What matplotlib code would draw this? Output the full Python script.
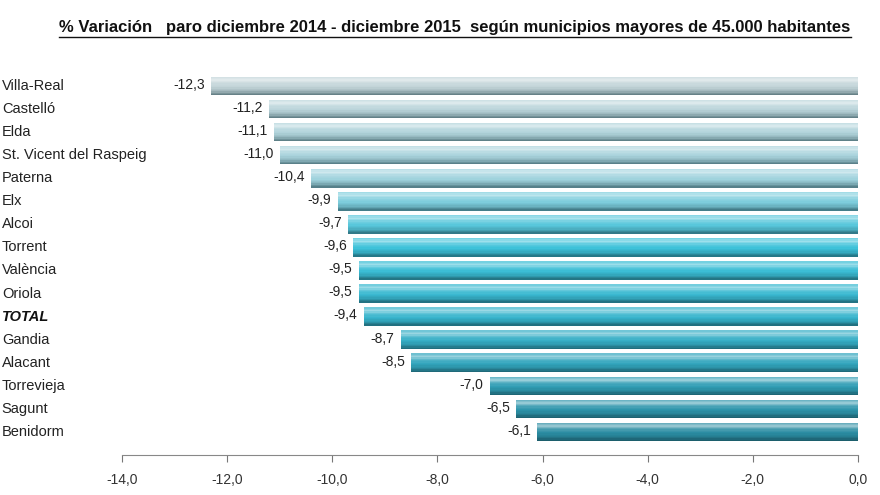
import numpy as np
import matplotlib
matplotlib.use("Agg")
import matplotlib.pyplot as plt
from matplotlib.colors import LinearSegmentedColormap, to_rgb
from matplotlib.transforms import blended_transform_factory
from matplotlib.lines import Line2D

# datos: % variación del paro dic 2014 - dic 2015
municipios = ["Villa-Real", "Castelló", "Elda", "St. Vicent del Raspeig", "Paterna",
              "Elx", "Alcoi", "Torrent", "València", "Oriola", "TOTAL", "Gandia",
              "Alacant", "Torrevieja", "Sagunt", "Benidorm"]
variacion = [-12.3, -11.2, -11.1, -11.0, -10.4, -9.9, -9.7, -9.6, -9.5, -9.5,
             -9.4, -8.7, -8.5, -7.0, -6.5, -6.1]
xticks = [-14.0, -12.0, -10.0, -8.0, -6.0, -4.0, -2.0, 0.0]
titulo = "% Variación   paro diciembre 2014 - diciembre 2015  según municipios mayores de 45.000 habitantes"

plt.rcParams['font.family'] = ['Liberation Sans', 'DejaVu Sans']

fig = plt.figure(figsize=(8.8, 4.95), dpi=100)
fig.patch.set_facecolor("white")
ax = fig.add_axes([0.1386, 0.0808, 0.8364, 0.7677])

n = len(municipios)
y = np.arange(n)
pos = [0.0, 0.27, 0.45, 0.7, 1.0]
cols = ["#c2d4d8", "#9fd2dd", "#3cc2da", "#36b2ca", "#2a8ca2"]
cmap = LinearSegmentedColormap.from_list("barras", list(zip(pos, cols)))


def mezcla(c, otro, t):
    c = np.array(to_rgb(c))
    o = np.array(to_rgb(otro))
    return tuple(np.clip(c * (1 - t) + o * t, 0, 1))


# perfil vertical del cilindro: (fraccion desde arriba, cantidad de luz)
# positivo = mezcla con blanco, negativo = mezcla con oscuro
perfil_f = [0.0, 0.18, 0.35, 0.55, 0.78, 0.92, 1.0]
perfil_l = [0.25, 0.50, 0.15, 0.0, -0.18, -0.45, -0.55]


def tono(base, luz):
    if luz >= 0:
        return mezcla(base, "white", luz)
    return mezcla(base, "#0e3038", -luz)


h = 0.80
top = -h / 2
ncapas = 14
for i in range(n):
    base = cmap(i / (n - 1))[:3]
    v = variacion[i]
    for k in range(ncapas):
        f = (k + 0.5) / ncapas
        luz = np.interp(f, perfil_f, perfil_l)
        centro = y[i] + top + f * h
        ax.barh(centro, v, height=h / ncapas * 1.05, color=tono(base, luz),
                edgecolor="none")
    ax.text(v - 0.12, y[i] - 0.05, f"{v:.1f}".replace(".", ","),
            ha="right", va="center", fontsize=10, color="#222222")

ax.set_xlim(-14, 0)
ax.set_ylim(16.0, -0.477)
ax.set_xticks(xticks)
ax.set_xticklabels([f"{v:.1f}".replace(".", ",") for v in xticks], fontsize=10, color="#333333")
ax.set_yticks([])
ax.tick_params(axis="x", direction="out", length=5, color="#777777", pad=8)
for s in ["top", "left", "right"]:
    ax.spines[s].set_visible(False)
ax.spines["bottom"].set_color("#888888")

# nombres de municipios pegados al borde izquierdo
tr = blended_transform_factory(fig.transFigure, ax.transData)
for i, nombre in enumerate(municipios):
    if nombre == "TOTAL":
        ax.text(0.002, y[i], nombre, transform=tr, ha="left", va="center",
                fontsize=10.5, fontweight="bold", fontstyle="italic", color="#111111")
    else:
        ax.text(0.002, y[i], nombre, transform=tr, ha="left", va="center",
                fontsize=10.5, color="#222222")

t = fig.text(0.517, 0.945, titulo, ha="center", va="center", fontsize=12,
             fontweight="bold", color="#111111")
fig.canvas.draw()
bb = t.get_window_extent().transformed(fig.transFigure.inverted())
fig.add_artist(Line2D([bb.x0, bb.x1], [bb.y0 - 0.004, bb.y0 - 0.004],
                      transform=fig.transFigure, color="#111111", lw=1.0))

fig.savefig("out.png", dpi=100)
